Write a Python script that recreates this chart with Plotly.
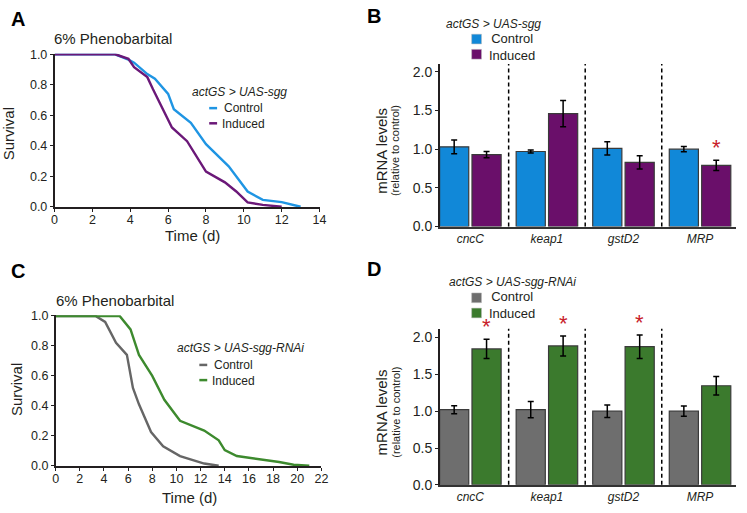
import plotly.graph_objects as go

W, H = 747, 513

# panel A survival, actGS > UAS-sgg
a_ctrl_t = [0, 3.2, 3.9, 4.2, 4.9, 5.3, 6.0, 6.3, 7.2, 8.0, 9.2, 10.2, 11.0, 12.0, 13.0]
a_ctrl_s = [1, 1, 0.965, 0.945, 0.87, 0.84, 0.74, 0.64, 0.55, 0.41, 0.265, 0.10, 0.045, 0.03, 0.0]
a_ind_t = [0, 3.2, 3.9, 4.2, 4.9, 5.2, 6.2, 7.0, 8.0, 8.3, 9.0, 9.6, 10.2, 11.0, 12.0]
a_ind_s = [1, 1, 0.97, 0.915, 0.85, 0.77, 0.52, 0.43, 0.23, 0.21, 0.16, 0.10, 0.028, 0.012, 0.0]

# panel C survival, actGS > UAS-sgg-RNAi
c_ctrl_t = [0, 3.3, 4.1, 5.0, 5.9, 6.4, 6.9, 7.9, 8.9, 10.3, 12.3, 13.5]
c_ctrl_s = [1, 1, 0.96, 0.82, 0.74, 0.52, 0.41, 0.225, 0.13, 0.065, 0.015, 0.0]
c_ind_t = [0, 5.3, 6.2, 6.9, 8.0, 9.0, 10.3, 12.3, 13.5, 14.0, 15.0, 16.5, 18.5, 19.7, 21.0]
c_ind_s = [1, 1, 0.91, 0.74, 0.60, 0.44, 0.30, 0.235, 0.17, 0.105, 0.065, 0.05, 0.025, 0.007, 0.0]

genes = ['cncC', 'keap1', 'gstD2', 'MRP']

# panel B mRNA, actGS > UAS-sgg
b_ctrl = [1.03, 0.97, 1.01, 1.00]
b_ctrl_err = [0.09, 0.02, 0.085, 0.035]
b_ind = [0.93, 1.46, 0.83, 0.79]
b_ind_err = [0.04, 0.17, 0.085, 0.065]
b_sig = [False, False, False, True]

# panel D mRNA, actGS > UAS-sgg-RNAi
d_ctrl = [1.02, 1.02, 1.00, 1.00]
d_ctrl_err = [0.055, 0.11, 0.085, 0.07]
d_ind = [1.845, 1.885, 1.875, 1.345]
d_ind_err = [0.13, 0.135, 0.16, 0.125]
d_sig = [True, True, True, False]

FONT = 'Liberation Sans, Arial, sans-serif'
INK = '#231f20'
BLUE, PURPLE = '#1188d8', '#6a0f6a'
BLUE_LN, PURPLE_LN = '#1f95e3', '#6b1878'
GREY, GREEN = '#6e6e6e', '#3b7a2d'
GREY_LN, GREEN_LN = '#666666', '#3d8a2e'


def px(x, y):
    return x / W, 1 - y / H


fig = go.Figure()
annos = []
shapes = []


def text(x, y, s, size=12, xanchor='center', angle=0, bold=False, italic=False, color=INK):
    xx, yy = px(x, y)
    if bold:
        s = '<b>' + s + '</b>'
    if italic:
        s = '<i>' + s + '</i>'
    annos.append(dict(x=xx, y=yy, xref='paper', yref='paper', text=s, showarrow=False,
                      xanchor=xanchor, yanchor='middle', textangle=angle,
                      font=dict(family=FONT, size=size, color=color)))


def survival_panel(n, xdom, ydom, xmax, series):
    for t, s, col in series:
        fig.add_trace(go.Scatter(x=t, y=s, mode='lines', line=dict(color=col, width=2.4),
                                 xaxis='x' + n, yaxis='y' + n, showlegend=False))
    fig.update_layout(**{
        'xaxis' + n: dict(domain=xdom, range=[0, xmax], anchor='y' + n, tick0=0, dtick=2,
                          showgrid=False, zeroline=False, showline=True, linecolor=INK, linewidth=1.5,
                          ticks='outside', ticklen=3, tickcolor=INK, ticklabelstandoff=-3,
                          tickfont=dict(family=FONT, size=12.5, color=INK)),
        'yaxis' + n: dict(domain=ydom, range=[-0.004, 1.004], anchor='x' + n, dtick=0.2, tickformat='.1f',
                          showgrid=False, zeroline=False, showline=True, linecolor=INK, linewidth=1.5,
                          ticks='outside', ticklen=3, tickcolor=INK,
                          tickfont=dict(family=FONT, size=12.5, color=INK)),
    })


def bar_panel(n, xdom, ydom, ymax, ctrl, ctrl_err, ind, ind_err, sig, cols):
    idx = list(range(len(genes)))
    for vals, errs, col, name in [(ctrl, ctrl_err, cols[0], 'Control'), (ind, ind_err, cols[1], 'Induced')]:
        fig.add_trace(go.Bar(x=idx, y=vals, name=name, marker=dict(color=col, line=dict(color='#3a3a3a', width=1.2)),
                             error_y=dict(type='data', array=errs, color='black', thickness=1.5, width=3),
                             xaxis='x' + n, yaxis='y' + n, showlegend=False))
    fig.update_layout(**{
        'xaxis' + n: dict(domain=xdom, range=[-0.4, 3.47], anchor='y' + n, tickvals=idx,
                          ticktext=['<i>%s</i>' % g for g in genes],
                          showgrid=False, zeroline=False, showline=True, linecolor='#333333', linewidth=2,
                          ticks='', tickfont=dict(family=FONT, size=12, color=INK)),
        'yaxis' + n: dict(domain=ydom, range=[0, ymax], anchor='x' + n, dtick=0.5, tickformat='.1f',
                          showgrid=False, zeroline=False, showline=True, linecolor=INK, linewidth=1.5,
                          ticks='outside', ticklen=3, tickcolor=INK,
                          tickfont=dict(family=FONT, size=14, color=INK)),
    })
    for i in idx[:-1]:
        shapes.append(dict(type='line', xref='x' + n, yref='y%s domain' % n, x0=i + 0.5, x1=i + 0.5,
                           y0=0, y1=1, line=dict(color='black', width=1.5, dash='4px,3px')))
    for i in idx:
        if sig[i]:
            annos.append(dict(x=i + 0.21, y=ind[i] + ind_err[i], xref='x' + n, yref='y' + n, text='*',
                              showarrow=False, yanchor='bottom', yshift=-2,
                              font=dict(family=FONT, size=22, color='#c8202a')))


survival_panel('', [0.0700, 0.4295], [0.5965, 0.9045], 14,
               [(a_ctrl_t, a_ctrl_s, BLUE_LN), (a_ind_t, a_ind_s, PURPLE_LN)])
survival_panel('3', [0.0714, 0.4320], [0.0774, 0.3801], 22,
               [(c_ctrl_t, c_ctrl_s, GREY_LN), (c_ind_t, c_ind_s, GREEN_LN)])
bar_panel('2', [0.5926, 0.9946], [0.5581, 0.8836], 2.1, b_ctrl, b_ctrl_err, b_ind, b_ind_err, b_sig,
          (BLUE, PURPLE))
bar_panel('4', [0.5926, 0.9946], [0.0404, 0.3534], 2.12, d_ctrl, d_ctrl_err, d_ind, d_ind_err, d_sig,
          (GREY, GREEN))

# panel letters and titles
for letter, x, y in [('A', 15, 13), ('B', 376, 10), ('C', 15, 272), ('D', 376, 270)]:
    text(x, y, letter, size=20, bold=True, color='black')
text(50, 33, '6% Phenobarbital', size=15, xanchor='left')
text(52, 303, '6% Phenobarbital', size=15, xanchor='left')
text(6, 131, 'Survival', size=15, angle=-90)
text(13, 394, 'Survival', size=15, angle=-90)
text(192, 236, 'Time (d)', size=15)
text(189, 505, 'Time (d)', size=15)
for yc in (149, 418):
    text(384, yc, 'mRNA levels', size=15, angle=-90)
    text(397.5, yc, '(relative to control)', size=11, angle=-90)

LINE_GAP = 12 * 1.3


def line_legend(cx, ty, title, lx, y1, cols):
    text(cx, ty, title, size=12, italic=True)
    for k, col in enumerate(cols):
        yy = y1 + k * LINE_GAP
        x0, yp = px(lx, yy)
        x1, _ = px(lx + 8, yy)
        shapes.append(dict(type='line', xref='paper', yref='paper', x0=x0, x1=x1, y0=yp, y1=yp,
                           line=dict(color=col, width=2.5)))
    text(lx + 11, y1 + LINE_GAP / 2, 'Control<br>Induced', size=12, xanchor='left')


def box_legend(tx, ty, title, lx, y1, cols):
    text(tx, ty, title, size=12, italic=True, xanchor='left')
    for k, col in enumerate(cols):
        yy = y1 + k * LINE_GAP
        x0, ya = px(lx, yy - 5)
        x1, yb = px(lx + 10, yy + 5)
        shapes.append(dict(type='rect', xref='paper', yref='paper', x0=x0, x1=x1, y0=yb, y1=ya,
                           fillcolor=col, line=dict(color='#bbbbbb', width=0.5)))
    text(lx + 16, y1 + LINE_GAP / 2, 'Control<br>Induced', size=13, xanchor='left')


line_legend(240, 88, 'actGS &gt; UAS-sgg', 209, 105, (BLUE_LN, PURPLE_LN))
line_legend(241, 352, 'actGS &gt; UAS-sgg-RNAi', 199, 369, (GREY_LN, GREEN_LN))
box_legend(447, 18, 'actGS &gt; UAS-sgg', 475, 34, (BLUE, PURPLE))
box_legend(450, 284, 'actGS &gt; UAS-sgg-RNAi', 475, 300, (GREY, GREEN))

fig.update_layout(width=W, height=H, margin=dict(l=0, r=0, t=0, b=0),
                  paper_bgcolor='white', plot_bgcolor='white',
                  barmode='group', bargap=0.154, bargroupgap=0.1,
                  annotations=annos, shapes=shapes, font=dict(family=FONT, color=INK))

page_css = ("document.documentElement.style.overflow='hidden';"
            "document.body.style.margin='0px';document.body.style.overflow='hidden';")
fig.write_html('out.html', config={'displayModeBar': False}, post_script=page_css)
